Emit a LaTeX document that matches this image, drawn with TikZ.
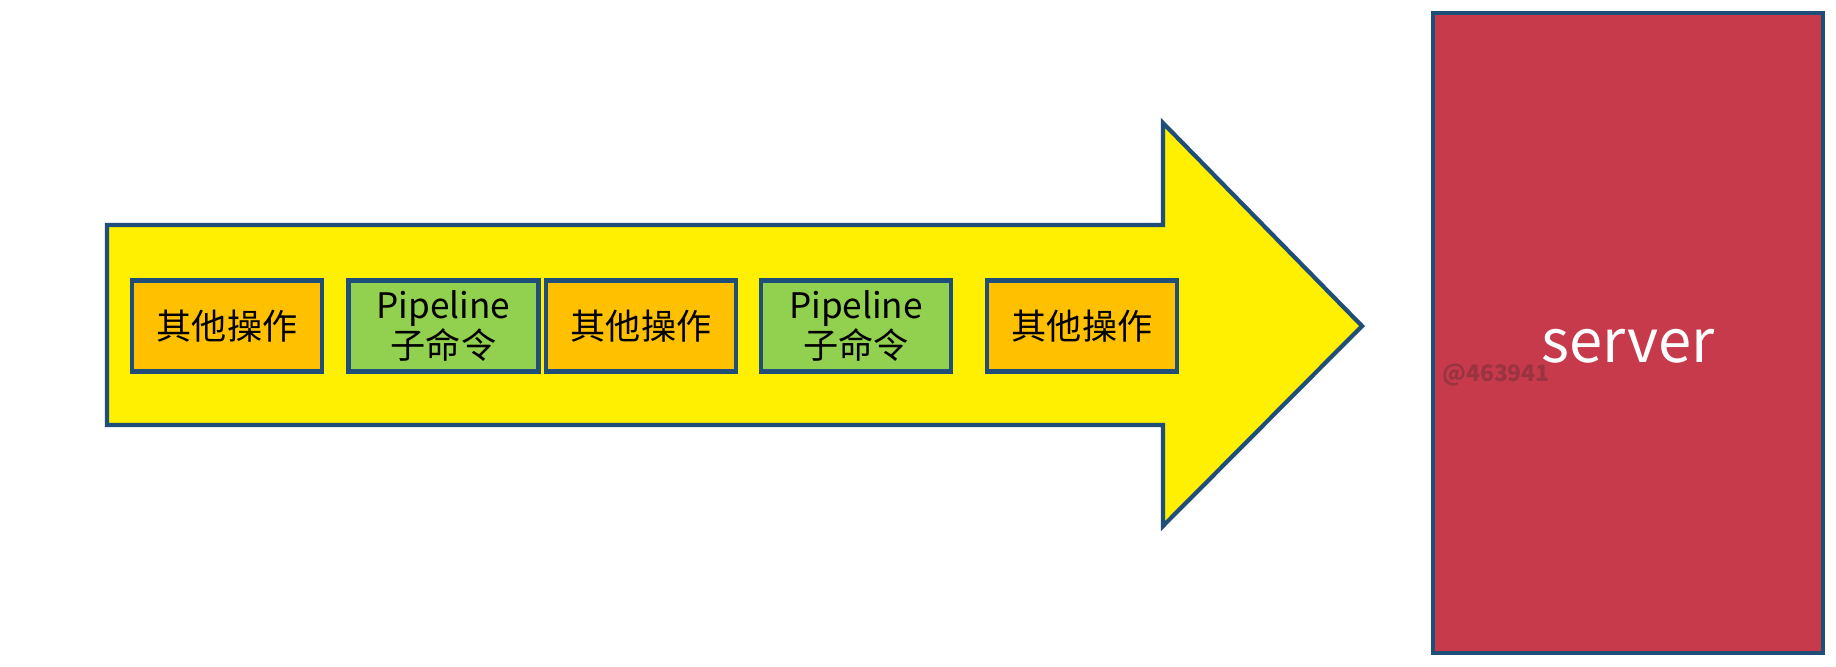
\documentclass[tikz,border=0pt]{standalone}
\usepackage{fontspec}
\setmainfont{Noto Sans CJK SC}
\usetikzlibrary{positioning}

\definecolor{edgeblue}{HTML}{1F4E79}
\definecolor{arrowyellow}{HTML}{FFEF00}
\definecolor{opfill}{HTML}{FFC000}
\definecolor{cmdfill}{HTML}{92D050}
\definecolor{serverred}{HTML}{C63A4B}
\definecolor{markgray}{HTML}{9A3440}

\tikzset{
  box/.style={draw=edgeblue, line width=1.2pt, minimum width=1.9cm, minimum height=0.91cm,
    inner sep=0pt, align=center, font=\fontsize{10}{11.6}\selectfont},
  serverbox/.style={draw=edgeblue, line width=1.2pt, fill=serverred, minimum width=3.9cm,
    minimum height=6.4cm},
  servertext/.style={text=white, font=\fontsize{17}{19}\selectfont},
  watermark/.style={text=markgray, font=\fontsize{6.5}{7}\selectfont\bfseries}
}

\begin{document}
\begin{tikzpicture}
    \useasboundingbox (0,0) rectangle (18.36,6.66);

    % Draw the big arrow
    \filldraw[fill=arrowyellow, draw=edgeblue, line width=1.2pt]
      (1.07,2.41) -- (1.07,4.41) -- (11.63,4.41) -- (11.63,5.43)
      -- (13.62,3.40) -- (11.63,1.40) -- (11.63,2.41) -- cycle;

    % Operations along the arrow
    \foreach \i/\x/\c/\t in {1/2.27/opfill/其他操作, 2/4.435/cmdfill/{Pipeline\\子命令},
        3/6.41/opfill/其他操作, 4/8.56/cmdfill/{Pipeline\\子命令}, 5/10.82/opfill/其他操作} {
      \node[box, fill=\c] (op\i) at (\x,3.40) {\t};
    }

    % Server
    \node[serverbox] (server) at (16.28,3.33) {};
    \node[servertext] (srvname) at ([yshift=-0.13cm]server.center) {server};
    \node[watermark, anchor=west] (mark) at (14.30,2.91) {@463941};

\end{tikzpicture}
\end{document}
